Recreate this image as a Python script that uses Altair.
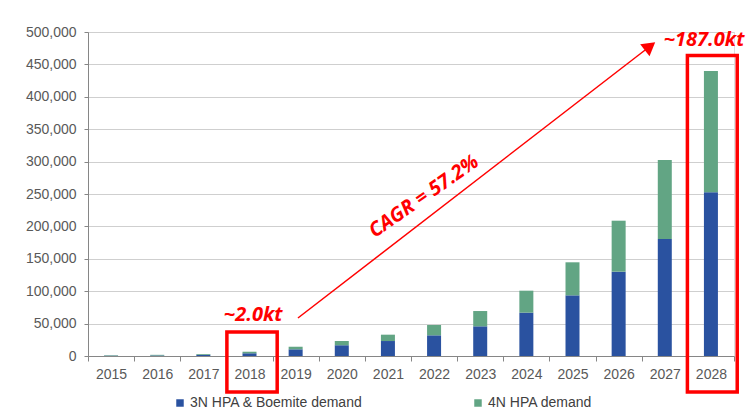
import altair as alt
import pandas as pd

# ---- data ----
years = ["2015", "2016", "2017", "2018", "2019", "2020", "2021",
         "2022", "2023", "2024", "2025", "2026", "2027", "2028"]
demand_3n = [500, 800, 1800, 4200, 10300, 16500, 23100,
             31900, 45800, 66900, 93600, 130100, 180500, 252600]
demand_4n = [700, 1000, 1200, 2400, 4000, 6600, 9800,
             15900, 23600, 33900, 51000, 78700, 122000, 187200]
series_names = ["3N HPA & Boemite demand", "4N HPA demand"]
series_colors = ["#2A52A0", "#62A584"]

# annotation anchors (x in year-slot units from the left edge, y in data units)
box_x = [3.01, 12.99]
box_x2 = [4.10, 14.07]
box_y = [37000, 463700]
box_y2 = [-55600, -55600]

arrow_x, arrow_y = 4.55, 58600
arrow_x2, arrow_y2 = 12.18, 478000
head_x, head_y = 12.18, 478000

label_x = [3.58, 13.35, 7.28]
label_y = [63300, 487700, 246000]
label_text = ["~2.0kt", "~187.0kt", "CAGR = 57.2%"]
label_angle = [0, 0, 325]

rows = []
for i, y in enumerate(years):
    rows.append({"year": y, "series": series_names[0], "value": demand_3n[i], "ord": 0})
    rows.append({"year": y, "series": series_names[1], "value": demand_4n[i], "ord": 1})
df = pd.DataFrame(rows)

ydom = [0, 500000]
FONT = "Liberation Sans"

bars = alt.Chart(df).mark_bar(size=14).encode(
    x=alt.X("year:N", sort=years,
            scale=alt.Scale(paddingInner=0, paddingOuter=0),
            axis=alt.Axis(title=None, labelAngle=0, tickBand="extent",
                          grid=False, tickSize=5, labelPadding=6,
                          domainColor="#868686", tickColor="#868686",
                          labelColor="#595959", labelFontSize=14, labelFont=FONT)),
    y=alt.Y("value:Q", stack="zero",
            scale=alt.Scale(domain=ydom, nice=False),
            axis=alt.Axis(title=None, format=",d", values=list(range(0, 500001, 50000)),
                          tickSize=4, labelPadding=8, grid=True, gridColor="#cfcfcf",
                          domainColor="#868686", tickColor="#868686",
                          labelColor="#595959", labelFontSize=14, labelFont=FONT)),
    color=alt.Color("series:N",
                    scale=alt.Scale(domain=series_names, range=series_colors),
                    legend=alt.Legend(title=None, orient="none", direction="horizontal",
                                      legendX=85, legendY=364, symbolType="square",
                                      symbolSize=56, symbolStrokeWidth=0,
                                      labelOffset=3, columnPadding=108, padding=0,
                                      labelLimit=400,
                                      labelFontSize=14, labelFont=FONT,
                                      labelColor="#404040")),
    order=alt.Order("ord:Q"),
)

xq = alt.Scale(domain=[0, 14], nice=False, zero=False)
yq = alt.Scale(domain=ydom, nice=False)

boxes_df = pd.DataFrame({"x": box_x, "x2": box_x2, "y": box_y, "y2": box_y2})
boxes = alt.Chart(boxes_df).mark_rect(fillOpacity=0, stroke="#FF0000", strokeWidth=3.5).encode(
    x=alt.X("x:Q", scale=xq, axis=None),
    x2="x2:Q",
    y=alt.Y("y:Q", scale=yq, axis=None),
    y2="y2:Q",
)

arrow_df = pd.DataFrame({"x": [arrow_x], "x2": [arrow_x2], "y": [arrow_y], "y2": [arrow_y2]})
arrow = alt.Chart(arrow_df).mark_rule(color="#FF0000", strokeWidth=1.5).encode(
    x=alt.X("x:Q", scale=xq, axis=None),
    x2="x2:Q",
    y=alt.Y("y:Q", scale=yq, axis=None),
    y2="y2:Q",
)

head_df = pd.DataFrame({"x": [head_x], "y": [head_y]})
head = alt.Chart(head_df).mark_point(shape="triangle-up", filled=True, color="#FF0000",
                                     opacity=1, size=230, angle=52).encode(
    x=alt.X("x:Q", scale=xq, axis=None),
    y=alt.Y("y:Q", scale=yq, axis=None),
)

labels_df = pd.DataFrame({"x": label_x, "y": label_y, "t": label_text, "a": label_angle})
labels = alt.Chart(labels_df).mark_text(color="#FF0000", font="Open Sans", fontSize=20,
                                        fontWeight="bold", fontStyle="italic",
                                        align="center", baseline="middle").encode(
    x=alt.X("x:Q", scale=xq, axis=None),
    y=alt.Y("y:Q", scale=yq, axis=None),
    text="t:N",
    angle=alt.Angle("a:Q", scale=None),
)

chart = alt.layer(bars, boxes, arrow, head, labels).resolve_scale(
    x="independent"
).resolve_axis(
    y="independent"
).properties(
    width=646, height=324,
    padding={"left": 80, "top": 24, "right": 12, "bottom": 54},
    autosize=alt.AutoSizeParams(type="none"),
).configure_view(stroke=None).configure(background="white")

chart.save("out.html", embed_options={"renderer": "svg", "actions": False})
